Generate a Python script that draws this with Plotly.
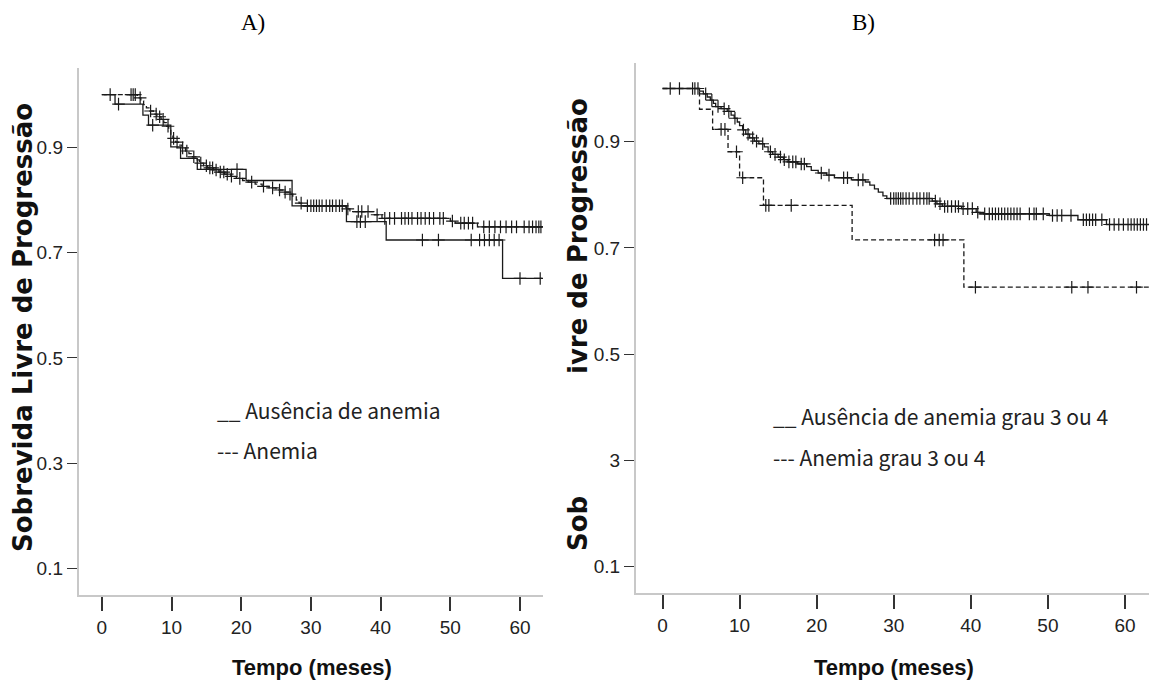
import plotly.graph_objects as go
import numpy as np

# ---------------- data ----------------
# Panel A
A_solid_times = [1.9, 5.9, 6.7, 9.9, 11.3, 13.7, 20.7, 27.3, 35.1, 40.8, 57.5]
A_solid_surv = [0.982, 0.961, 0.942, 0.901, 0.879, 0.858, 0.837, 0.789, 0.759, 0.724, 0.651]
A_solid_cens = [2.4, 7.3, 19.4, 36.6, 37.1, 37.8, 46.0, 48.3, 53.0, 54.2, 54.9, 55.6, 56.3, 57.0, 60.0, 62.9]
A_solid_end = 63.2

A_dash_times = [5.1, 5.6, 6.0, 6.4, 6.9, 7.4, 7.9, 8.5, 8.9, 9.3, 9.6, 9.9, 10.2, 10.6, 11.0, 11.5, 12.0,
                12.5, 13.0, 13.5, 14.0, 14.6, 15.2, 16.0, 16.8, 17.6, 18.5, 19.3, 20.2, 21.0, 22.0, 23.0,
                24.0, 25.0, 26.0, 26.8, 27.4, 27.9, 28.3, 28.8, 35.0, 35.6, 39.0, 40.2, 50.0, 50.7, 53.9]
A_dash_surv = [.994, .988, .981, .975, .969, .963, .958, .953, .947, .940, .932, .924, .917, .910, .904, .899, .893,
               .888, .882, .876, .870, .865, .861, .857, .853, .849, .845, .841, .837, .834, .830, .826,
               .823, .819, .815, .811, .806, .800, .794, .789, .783, .778, .772, .765, .760, .756, .749]
A_dash_cens = [1.2, 4.2, 4.5, 4.8, 5.5, 7.0, 7.8, 8.3, 8.8, 9.5, 10.3, 10.8, 11.6, 12.2, 13.2, 14.2, 15.0,
               15.5, 15.9, 16.4, 17.0, 17.5, 18.0, 18.6, 19.8, 21.5, 23.2, 24.5, 25.5, 26.3, 27.0, 28.6,
               29.5, 30.0, 30.4, 30.8, 31.2, 31.6, 32.2, 32.7, 33.1, 33.6, 34.1, 34.5, 35.3, 36.8, 37.3,
               38.2, 39.5, 40.6, 41.3, 42.0, 43.0, 43.5, 44.0, 44.5, 45.3, 45.8, 46.4, 47.0, 47.6, 48.5,
               49.0, 50.3, 51.5, 52.0, 52.6, 53.2, 54.8, 55.6, 56.4, 57.2, 58.0, 58.8, 59.5, 60.6, 61.3,
               61.8, 62.3, 62.7, 63.0]
A_dash_end = 63.2

# Panel B
B_solid_times = [4.8, 5.3, 5.8, 6.2, 6.6, 6.9, 7.6, 8.4, 8.9, 9.3, 9.7, 10.0, 10.4, 10.8, 11.3, 11.9, 12.5,
                 13.2, 13.7, 14.3, 15.0, 15.7, 16.3, 17.5, 18.7, 19.3, 20.2, 21.3, 22.3, 24.5, 26.3, 26.9,
                 27.5, 28.0, 28.6, 29.1, 35.0, 35.6, 36.3, 38.8, 40.7, 41.2, 50.2, 53.9, 57.6]
B_solid_surv = [.995, .990, .984, .978, .972, .966, .962, .957, .950, .944, .937, .930, .922, .914, .907, .901, .896,
                .890, .881, .876, .871, .866, .862, .858, .853, .846, .841, .837, .832, .828, .824, .818,
                .811, .805, .798, .793, .788, .783, .778, .774, .767, .764, .761, .753, .744]
B_solid_cens = [1.0, 2.2, 3.9, 4.2, 4.6, 5.6, 6.4, 7.2, 8.0, 8.6, 9.4, 10.5, 11.1, 11.7, 12.2, 13.0, 14.0,
                14.6, 15.3, 15.8, 16.4, 16.9, 17.3, 18.0, 18.4, 20.6, 21.6, 23.5, 24.0, 25.4, 26.0, 29.6,
                30.0, 30.3, 30.6, 30.9, 31.2, 31.6, 32.0, 32.5, 33.0, 33.4, 33.9, 34.3, 34.6, 35.4, 36.0,
                36.6, 37.0, 37.5, 38.0, 38.4, 39.0, 39.6, 40.2, 40.9, 41.8, 42.4, 42.8, 43.2, 43.6, 44.0,
                44.4, 44.8, 45.2, 45.6, 46.0, 46.4, 47.6, 48.2, 48.5, 49.4, 50.6, 51.2, 51.8, 53.0, 54.6,
                55.0, 55.4, 55.8, 56.2, 57.0, 58.0, 58.6, 59.2, 59.8, 60.4, 60.8, 61.2, 61.6, 62.0, 62.4, 62.8]
B_solid_end = 63.5

B_dash_times = [4.8, 6.5, 8.5, 10.0, 13.1, 24.6, 39.1]
B_dash_surv = [0.961, 0.923, 0.881, 0.832, 0.780, 0.715, 0.626]
B_dash_cens = [7.6, 8.1, 9.6, 10.4, 13.4, 13.8, 16.7, 35.3, 35.9, 36.4, 40.6, 53.1, 55.2, 61.5]
B_dash_end = 63.5

x_ticks = [0, 10, 20, 30, 40, 50, 60]
y_ticks = [0.1, 0.3, 0.5, 0.7, 0.9]
A_y_ticktext = ["0.1", "0.3", "0.5", "0.7", "0.9"]
B_y_ticktext = ["0.1", "3", "0.5", "0.7", "0.9"]

titles = ["A)", "B)"]
y_title = "Sobrevida Livre de Progressão"
B_y_title_parts = ["Sob", "ivre de Progressão"]
x_title = "Tempo (meses)"
A_legend = ["__ Ausência de anemia", "--- Anemia"]
B_legend = ["__ Ausência de anemia grau 3 ou 4", "--- Anemia grau 3 ou 4"]

# ---------------- helpers ----------------
W, H = 1149, 684
def px(x):
    return x / W
def py(y):
    return 1 - y / H

def km_xy(times, surv, end):
    xs = [0.0] + list(times) + [end]
    ys = [1.0] + list(surv) + [surv[-1]]
    return xs, ys

def cens_y(times, surv, cens):
    t = np.array(times)
    s = np.array([1.0] + list(surv))
    idx = np.searchsorted(t, np.array(cens), side="right")
    return s[idx]

LINE_COL = "#1a1a1a"
fig = go.Figure()

def add_group(times, surv, cens, end, dash, xa, ya, name):
    xs, ys = km_xy(times, surv, end)
    fig.add_trace(go.Scatter(x=xs, y=ys, mode="lines", line_shape="hv",
                             line=dict(color=LINE_COL, width=1.3, dash=dash),
                             xaxis=xa, yaxis=ya, name=name, showlegend=False))
    fig.add_trace(go.Scatter(x=cens, y=cens_y(times, surv, cens), mode="markers",
                             marker=dict(symbol="cross-thin-open", size=9, color=LINE_COL,
                                         line=dict(color=LINE_COL, width=1.2)),
                             xaxis=xa, yaxis=ya, name=name + " censurado", showlegend=False))

add_group(A_dash_times, A_dash_surv, A_dash_cens, A_dash_end, "5px,3px", "x", "y", "A grupo 1")
add_group(A_solid_times, A_solid_surv, A_solid_cens, A_solid_end, "solid", "x", "y", "A grupo 2")
add_group(B_solid_times, B_solid_surv, B_solid_cens, B_solid_end, "solid", "x2", "y2", "B grupo 1")
add_group(B_dash_times, B_dash_surv, B_dash_cens, B_dash_end, "5px,3px", "x2", "y2", "B grupo 2")

TICK_FONT = dict(family="Liberation Sans, Arial, sans-serif", size=19, color="#222")
AXIS_LINE = "#c8c8c8"

xaxis_common = dict(showgrid=False, zeroline=False, showline=True, linecolor=AXIS_LINE, linewidth=2,
                    ticks="outside", ticklen=14, tickwidth=1.5, tickcolor="#333",
                    tickvals=x_ticks, tickfont=TICK_FONT, fixedrange=True)
yaxis_common = dict(showgrid=False, zeroline=False, showline=True, linecolor=AXIS_LINE, linewidth=2,
                    ticks="outside", ticklen=10, tickwidth=1.2, tickcolor="#333",
                    tickvals=y_ticks, tickfont=TICK_FONT, fixedrange=True)

fig.update_layout(
    width=W, height=H, margin=dict(l=0, r=0, t=0, b=0),
    paper_bgcolor="white", plot_bgcolor="white", showlegend=False,
    xaxis=dict(domain=[px(78.8), px(543)], range=[-3.3, 63.3], anchor="y", **xaxis_common),
    yaxis=dict(domain=[py(595), py(68)], range=[0.05, 1.0506], anchor="x",
               ticktext=A_y_ticktext, **yaxis_common),
    xaxis2=dict(domain=[px(636), 1.0], range=[-3.44, 63.12], anchor="y2", **xaxis_common),
    yaxis2=dict(domain=[py(593), py(63)], range=[0.0505, 1.048], anchor="x2",
                ticktext=B_y_ticktext, **yaxis_common),
)

ann = []
SERIF = dict(family="Liberation Serif, Times New Roman, serif", size=23, color="black")
ann.append(dict(text=titles[0], x=px(253), y=py(22), font=SERIF))
ann.append(dict(text=titles[1], x=px(863), y=py(22), font=SERIF))

YT_FONT = dict(family="DejaVu Sans, Verdana, sans-serif", size=26, color="#111", weight="bold")
ann.append(dict(text=y_title, x=px(23), y=py(328), textangle=-90, font=YT_FONT))
ann.append(dict(text=B_y_title_parts[0], x=px(578), y=py(524), textangle=-90, font=YT_FONT))
ann.append(dict(text=B_y_title_parts[1], x=px(578), y=py(236), textangle=-90, font=YT_FONT))

XT_FONT = dict(family="Liberation Sans, Arial, sans-serif", size=22, color="#111", weight="bold")
ann.append(dict(text=x_title, x=px(311.5), y=py(667), font=XT_FONT))
ann.append(dict(text=x_title, x=px(894), y=py(667), font=XT_FONT))

LEG_FONT = dict(family="Noto Sans CJK JP, Noto Sans, sans-serif", size=21, color="#222")
ann.append(dict(text=A_legend[0], x=px(214.6), y=py(410), xanchor="left", font=LEG_FONT))
ann.append(dict(text=A_legend[1], x=px(214.6), y=py(450), xanchor="left", font=LEG_FONT))
ann.append(dict(text=B_legend[0], x=px(770.5), y=py(416), xanchor="left", font=LEG_FONT))
ann.append(dict(text=B_legend[1], x=px(770.5), y=py(457), xanchor="left", font=LEG_FONT))

for a in ann:
    a.setdefault("xanchor", "center")
    a.setdefault("yanchor", "middle")
    a.update(xref="paper", yref="paper", showarrow=False)
fig.update_layout(annotations=ann)

fig.write_html("out.html")
